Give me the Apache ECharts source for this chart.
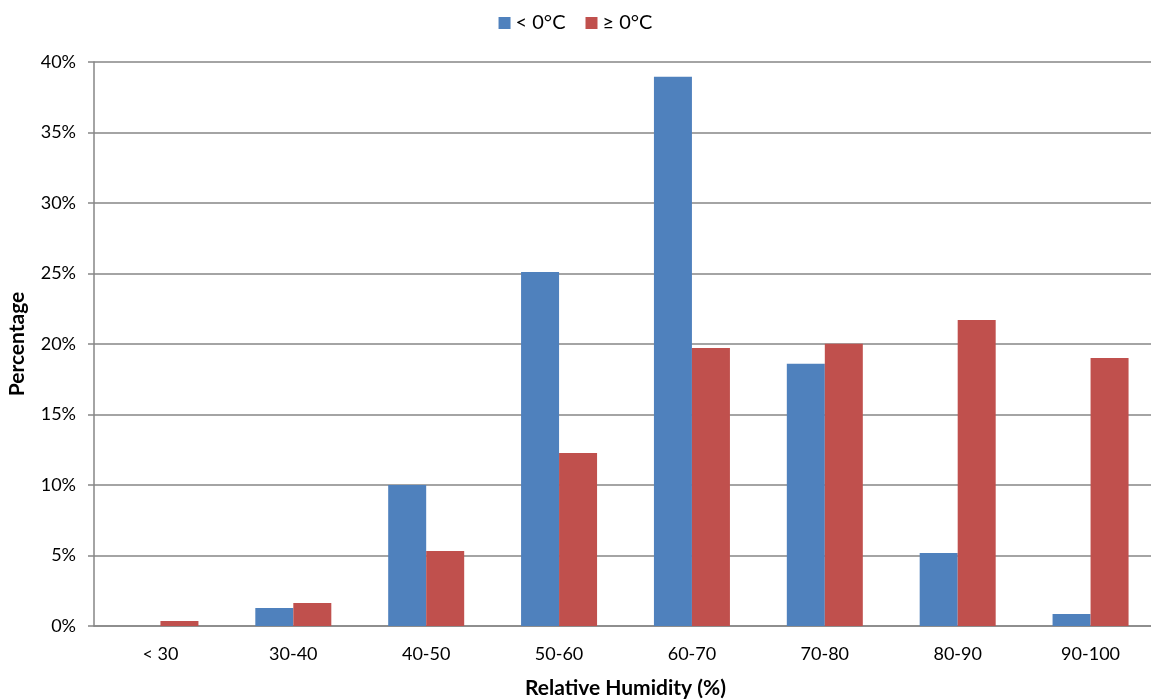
<!DOCTYPE html>
<html><head><meta charset="utf-8">
<script src="https://cdn.jsdelivr.net/npm/echarts@6/dist/echarts.min.js"></script>
<style>html,body{margin:0;padding:0;background:#fff;overflow:hidden}#c{width:1151px;height:700px}</style>
</head><body><div id="c"></div>
<script>
const categories = ['< 30','30-40','40-50','50-60','60-70','70-80','80-90','90-100'];
const below0 = [0, 1.28, 10.0, 25.1, 38.95, 18.6, 5.18, 0.85];
const above0 = [0.35, 1.63, 5.32, 12.27, 19.72, 20.02, 21.7, 19.0];
const seriesNames = ['< 0°C', '≥ 0°C'];
const yTicks = {min: 0, max: 40, interval: 5};

const font = 'Lato, "Open Sans", sans-serif';
const chart = echarts.init(document.getElementById('c'), null, {width: 1151, height: 700});
chart.setOption({
  animation: false,
  textStyle: {fontFamily: font},
  legend: {
    top: 8, left: 'center', itemWidth: 12, itemHeight: 12, itemGap: 20,
    icon: 'rect',
    textStyle: {fontSize: 20, color: '#000', fontFamily: font},
    data: seriesNames
  },
  grid: {left: 94, width: 1063, top: 62, height: 564, containLabel: false, outerBoundsMode: 'none'},
  xAxis: {
    type: 'category', data: categories,
    axisLine: {lineStyle: {color: '#868686', width: 1.5}},
    axisTick: {show: false},
    axisLabel: {fontSize: 18, color: '#000', margin: 19, fontFamily: font},
    name: 'Relative Humidity (%)', nameLocation: 'middle', nameGap: 52,
    nameTextStyle: {fontSize: 21, fontWeight: 'bold', color: '#000', fontFamily: font}
  },
  yAxis: {
    type: 'value', min: yTicks.min, max: yTicks.max, interval: yTicks.interval,
    axisLine: {show: true, lineStyle: {color: '#868686', width: 1.5}},
    axisTick: {show: true, length: 6, lineStyle: {color: '#868686', width: 1.5}},
    splitLine: {lineStyle: {color: '#868686', width: 1.5}},
    axisLabel: {fontSize: 18, color: '#000', margin: 18, formatter: v => v + '%', fontFamily: font},
    name: 'Percentage', nameLocation: 'middle', nameGap: 66, nameRotate: 90,
    nameTextStyle: {fontSize: 21, fontWeight: 'bold', color: '#000', fontFamily: font}
  },
  series: [
    {name: seriesNames[0], type: 'bar', data: below0, barWidth: 38, barGap: '0%',
     itemStyle: {color: '#4F81BD'}},
    {name: seriesNames[1], type: 'bar', data: above0, barWidth: 38, barGap: '0%',
     itemStyle: {color: '#C0504D'}}
  ]
});
</script></body></html>
